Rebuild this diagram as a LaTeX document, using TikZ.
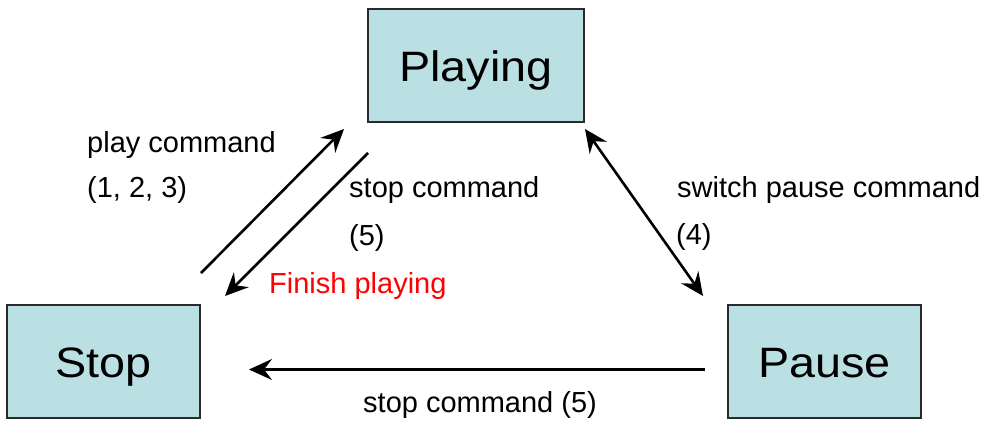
\documentclass[tikz,border=0pt]{standalone}
\usepackage{fontspec}
\setmainfont{Liberation Sans}
\newfontfamily\bigfont[FakeStretch=1.1]{Liberation Sans}
\usetikzlibrary{arrows.meta}
\definecolor{boxfill}{HTML}{BBE0E3}
\definecolor{boxline}{HTML}{2A2A2A}
\begin{document}
\begin{tikzpicture}[x=1pt,y=-1pt,
  state/.style={draw=boxline,fill=boxfill,line width=1.6pt,minimum width=193pt,minimum height=113pt,inner sep=0pt,text height=36pt,text depth=4pt,font=\bigfont\fontsize{42.5}{48}\selectfont},
  lbl/.style={anchor=base west,inner sep=0pt,font=\fontsize{29}{34}\selectfont},
  conn/.style={line width=2.6pt,-{Stealth[length=23pt,width=21pt,inset=8pt]}},
  conn2/.style={line width=2.6pt,{Stealth[length=23pt,width=21pt,inset=8pt]}-{Stealth[length=23pt,width=21pt,inset=8pt]}}]
\useasboundingbox (0,0) rectangle (987,421);
\node[state,minimum width=216pt] (playing) at (476,65.5) {Playing};
\node[state] (stop) at (103.5,361.5) {Stop};
\node[state] (pause) at (824.5,361.5) {Pause};
% connector end points
\coordinate (ps) at (201,273);
\coordinate (pe) at (344,129);
\coordinate (ss) at (368,153);
\coordinate (se) at (225,296);
\coordinate (wa) at (585,129);
\coordinate (wb) at (703,296);
\coordinate (bs) at (705,369.5);
\coordinate (be) at (249,369.5);
\draw[conn] (ps) -- (pe);
\draw[conn] (ss) -- (se);
\draw[conn2] (wa) -- (wb);
\draw[conn] (bs) -- (be);
% labels
\node[lbl] (l1) at (87,152) {play command};
\node[lbl] (l2) at (87,197) {(1, 2, 3)};
\node[lbl] (l3) at (349,197) {stop command};
\node[lbl] (l4) at (349,245) {(5)};
\node[lbl,text=red] (l5) at (269,293) {Finish playing};
\node[lbl] (l6) at (677,197) {switch pause command};
\node[lbl] (l7) at (676,244) {(4)};
\node[lbl] (l8) at (363,412) {stop command (5)};
\end{tikzpicture}
\end{document}
